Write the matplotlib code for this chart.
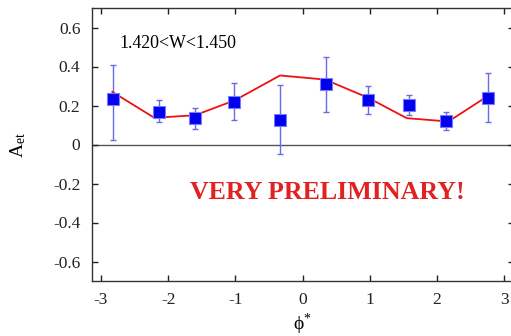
import numpy as np
import matplotlib
matplotlib.use("Agg")
import matplotlib.pyplot as plt

plt.rcParams['font.family'] = ['Liberation Serif', 'DejaVu Serif']
plt.rcParams['mathtext.fontset'] = 'custom'
plt.rcParams['mathtext.rm'] = 'Liberation Serif'
plt.rcParams['mathtext.it'] = 'Liberation Serif:italic'

# data points (phi*, A_et) with asymmetric error ends
phi = [-2.817, -2.137, -1.601, -1.016, -0.336, 0.344, 0.978, 1.579, 2.130, 2.763]
a_et = [0.234, 0.169, 0.137, 0.219, 0.128, 0.308, 0.227, 0.205, 0.118, 0.239]
err_hi = [0.410, 0.226, 0.186, 0.316, 0.306, 0.450, 0.299, 0.253, 0.168, 0.367]
err_lo = [0.022, 0.116, 0.082, 0.127, -0.050, 0.166, 0.157, 0.152, 0.072, 0.113]

# model curve
phi_fit = [-2.832, -2.207, -1.601, -1.006, -0.336, 0.335, 0.980, 1.550, 2.170, 2.830]
a_fit = [0.270, 0.137, 0.150, 0.227, 0.354, 0.333, 0.239, 0.135, 0.118, 0.265]

xticks = [-3, -2, -1, 0, 1, 2, 3]
yticks = [-0.6, -0.4, -0.2, 0, 0.2, 0.4, 0.6]
ytick_labels = ['-0.6', '-0.4', '-0.2', '0', '0.2', '0.4', '0.6']

fig = plt.figure(figsize=(5.11, 3.36), dpi=100)
ax = fig.add_axes([91.5 / 511, 55 / 336, 422.2 / 511, 273 / 336])

a = np.array(a_et)
yerr = [a - np.array(err_lo), np.array(err_hi) - a]

ax.axhline(0, color='#555555', lw=1.0, zorder=1)
ax.errorbar(phi, a_et, yerr=yerr, fmt='none', ecolor='#6a6ae8', elinewidth=1.0,
            capsize=2.5, capthick=1.0, zorder=2)
ax.plot(phi_fit, a_fit, color='#ee1111', lw=1.3, zorder=3)
ax.plot(phi, a_et, 's', ms=8.5, mfc='#0000ee', mec='#7a7aff', mew=0.8, zorder=4)

ax.set_xlim(-np.pi, np.pi)
ax.set_ylim(-0.7, 0.7)
ax.set_xticks(xticks)
ax.set_xticklabels([str(t) for t in xticks])
ax.set_yticks(yticks)
ax.set_yticklabels(ytick_labels)
ax.tick_params(direction='in', top=True, right=True, length=4, width=1.0,
               labelsize=12.5, colors='#222222')
ax.tick_params(axis='y', pad=8)
ax.tick_params(axis='x', pad=8)
for s in ax.spines.values():
    s.set_color('#333333')
    s.set_linewidth(1.0)

ax.set_xlabel(r'$\mathregular{\phi^{*}}$', fontsize=14, labelpad=3)
ax.set_ylabel(r'$\mathregular{A_{et}}$', fontsize=14, labelpad=18)

ax.text(-2.72, 0.52, '1.420<W<1.450', fontsize=12.9, va='center', ha='left')
ax.text(0.37, -0.246, 'VERY PRELIMINARY!', fontsize=18.6, fontweight='bold',
        color='#e02222', va='center', ha='center')

fig.savefig('out.png', dpi=100)
